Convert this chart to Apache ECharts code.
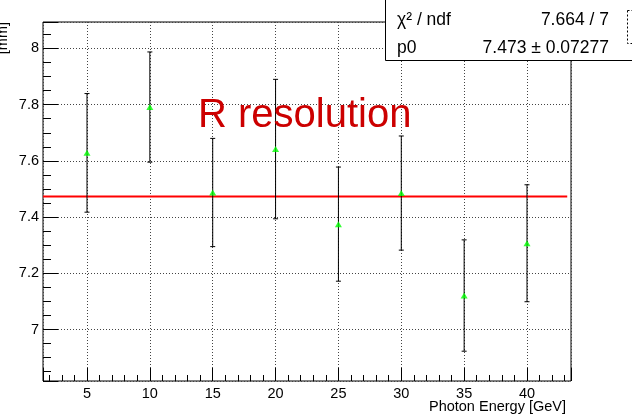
<!DOCTYPE html>
<html>
<head>
<meta charset="utf-8">
<script src="https://cdn.jsdelivr.net/npm/echarts@6/dist/echarts.min.js"></script>
<style>
html,body{margin:0;padding:0;background:#fff;}
#chart{width:632px;height:418px;}
</style>
</head>
<body>
<div id="chart"></div>
<script>
// ---- data ----
const energies = [5, 10, 15, 20, 25, 30, 35, 40];
const resolution = [7.6285, 7.7915, 7.4875, 7.642, 7.375, 7.4855, 7.121, 7.307];
const resolutionErr = [0.211, 0.196, 0.1925, 0.248, 0.203, 0.203, 0.198, 0.208];
const fitP0 = 7.473;
const fitRange = [1.5, 43.2];
const xRange = [1.5, 43.5];
const yRange = [6.817, 8.094];
const statsLabels = ['χ² / ndf', 'p0'];
const statsValues = ['7.664 / 7', '7.473 ± 0.07277'];
const titleText = 'R resolution';
const xTitle = 'Photon Energy [GeV]';
const yTitle = '[mm]';

const FONT = '"Liberation Sans", Arial, Helvetica, sans-serif';

const points = energies.map((e, i) => [e, resolution[i], resolutionErr[i]]);

const chart = echarts.init(document.getElementById('chart'), null, {renderer: 'canvas'});

const option = {
  animation: false,
  backgroundColor: '#fff',
  grid: {
    left: 43, top: 22, width: 528, height: 359,
    show: true, borderColor: '#000', borderWidth: 1, backgroundColor: 'transparent',
    containLabel: false
  },
  xAxis: {
    type: 'value',
    min: xRange[0], max: xRange[1],
    splitNumber: 8,
    axisLine: {show: false},
    axisTick: {show: true, inside: true, length: 13, lineStyle: {color: '#000', width: 1}},
    minorTick: {show: true, splitNumber: 5, length: 6, lineStyle: {color: '#000', width: 1}},
    axisLabel: {
      show: true, color: '#000', fontFamily: FONT, fontSize: 14.5, margin: 5,
      showMinLabel: false, showMaxLabel: false
    },
    splitLine: {show: true, lineStyle: {color: '#444', width: 1, type: [1, 2]}},
    minorSplitLine: {show: false}
  },
  yAxis: {
    type: 'value',
    min: yRange[0], max: yRange[1],
    splitNumber: 6,
    axisLine: {show: false},
    axisTick: {show: true, inside: true, length: 15, lineStyle: {color: '#000', width: 1}},
    minorTick: {show: true, splitNumber: 4, length: 8, lineStyle: {color: '#000', width: 1}},
    axisLabel: {
      show: true, color: '#000', fontFamily: FONT, fontSize: 14.5, margin: 4,
      showMinLabel: false, showMaxLabel: false
    },
    splitLine: {show: true, lineStyle: {color: '#444', width: 1, type: [1, 2]}},
    minorSplitLine: {show: false}
  },
  series: [
    {
      type: 'line',
      data: [[fitRange[0], fitP0], [fitRange[1], fitP0]],
      showSymbol: false,
      symbol: 'none',
      lineStyle: {color: '#ff0000', width: 2},
      z: 3,
      silent: true
    },
    {
      type: 'custom',
      data: points,
      renderItem: function (params, api) {
        const x = api.value(0), y = api.value(1), e = api.value(2);
        const hi = api.coord([x, y + e]);
        const lo = api.coord([x, y - e]);
        const cap = 2.5;
        const st = {stroke: '#000', lineWidth: 1};
        return {
          type: 'group',
          children: [
            {type: 'line', shape: {x1: hi[0], y1: hi[1], x2: lo[0], y2: lo[1]}, style: st},
            {type: 'line', shape: {x1: hi[0] - cap, y1: hi[1], x2: hi[0] + cap, y2: hi[1]}, style: st},
            {type: 'line', shape: {x1: lo[0] - cap, y1: lo[1], x2: lo[0] + cap, y2: lo[1]}, style: st}
          ]
        };
      },
      z: 4,
      silent: true
    },
    {
      type: 'scatter',
      data: points.map(p => [p[0], p[1]]),
      symbol: 'triangle',
      symbolSize: [7, 6],
      itemStyle: {color: '#00ff00'},
      z: 5,
      silent: true
    }
  ],
  graphic: [
    {
      type: 'text', x: 198, y: 115.5, z: 10,
      style: {text: titleText, font: '40px ' + FONT, fill: '#cc0000', align: 'left', verticalAlign: 'middle'}
    },
    {
      type: 'text', x: 566, y: 406.5, z: 10,
      style: {text: xTitle, font: '14.5px ' + FONT, fill: '#000', align: 'right', verticalAlign: 'middle'}
    },
    {
      type: 'text', x: 10, y: 22, rotation: Math.PI / 2, z: 10,
      style: {text: yTitle, font: '14.5px ' + FONT, fill: '#000', align: 'right', verticalAlign: 'bottom'}
    },
    {
      type: 'rect', z: 20,
      shape: {x: 385.5, y: -5, width: 260, height: 65.5},
      style: {fill: '#fff', stroke: '#000', lineWidth: 1}
    },
    {
      type: 'text', x: 397, y: 20.5, z: 21,
      style: {text: statsLabels[0], font: '17.5px ' + FONT, fill: '#000', align: 'left', verticalAlign: 'middle'}
    },
    {
      type: 'text', x: 609, y: 20.5, z: 21,
      style: {text: statsValues[0], font: '17.5px ' + FONT, fill: '#000', align: 'right', verticalAlign: 'middle'}
    },
    {
      type: 'text', x: 397, y: 48.5, z: 21,
      style: {text: statsLabels[1], font: '17.5px ' + FONT, fill: '#000', align: 'left', verticalAlign: 'middle'}
    },
    {
      type: 'text', x: 609, y: 48.5, z: 21,
      style: {text: statsValues[1], font: '17.5px ' + FONT, fill: '#000', align: 'right', verticalAlign: 'middle'}
    },
    {
      type: 'rect', z: 20,
      shape: {x: 627.5, y: 10.5, width: 30, height: 33},
      style: {fill: '#fff', stroke: '#000', lineWidth: 1, lineDash: [2, 2]}
    }
  ]
};

chart.setOption(option);
</script>
</body>
</html>
